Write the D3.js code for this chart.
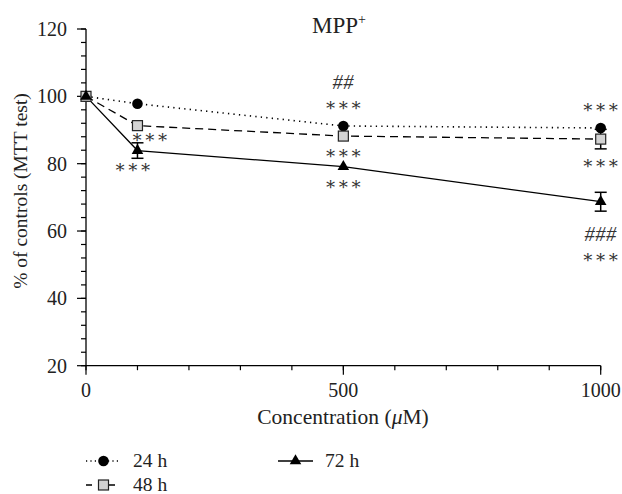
<!DOCTYPE html>
<html>
<head>
<meta charset="UTF-8">
<title>MPP+</title>
<style>
  body { margin: 0; background: #fff; }
</style>
</head>
<body>
<svg id="chart"></svg>
<script src="https://cdn.jsdelivr.net/npm/d3@7"></script>
<script>
// data
const concentrations = [0, 100, 500, 1000];
const seriesNames = ['24 h', '48 h', '72 h'];
const values24 = [100, 97.8, 91.2, 90.6];
const values48 = [100, 91.3, 88.2, 87.3];
const values72 = [100, 83.9, 79.1, 68.7];
const err48 = [0, 0, 0, 2.9];
const err72 = [0, 2.3, 0, 2.8];
const yTicks = [20, 40, 60, 80, 100, 120];
const xTicks = [0, 500, 1000];
// annotations in data units: [concentration, value, text]
const annotations = [
    [124, 88.0, '∗∗∗'],
    [91, 79.0, '∗∗∗'],
    [500, 104.3, '##'],
    [500, 97.3, '∗∗∗'],
    [500, 83.2, '∗∗∗'],
    [500, 74.0, '∗∗∗'],
    [1000, 96.7, '∗∗∗'],
    [1000, 80.1, '∗∗∗'],
    [1000, 59.1, '###'],
    [1000, 52.4, '∗∗∗']
];

const width = 622;
const height = 494;
const font = '"Liberation Serif", "Times New Roman", "DejaVu Serif", serif';

const svg = d3.select('#chart')
    .attr('width', width)
    .attr('height', height)
    .style('font-family', font);

const x = d3.scaleLinear().domain([0, 1000]).range([86, 600.7]);
const y = d3.scaleLinear().domain([20, 120]).range([365.7, 29]);

// y axis
const yAxis = svg.append('g')
    .attr('transform', 'translate(' + x(0) + ',0)');
yAxis.append('line')
    .attr('y1', y(20)).attr('y2', y(120))
    .attr('stroke', '#000').attr('stroke-width', 1.3);
yAxis.selectAll('.minor')
    .data(d3.range(20, 121, 4))
    .enter().append('line')
    .attr('x1', -5).attr('x2', 0)
    .attr('y1', d => y(d)).attr('y2', d => y(d))
    .attr('stroke', '#000').attr('stroke-width', 1.2);
yAxis.selectAll('.major')
    .data(yTicks)
    .enter().append('line')
    .attr('x1', -9).attr('x2', 0)
    .attr('y1', d => y(d)).attr('y2', d => y(d))
    .attr('stroke', '#000').attr('stroke-width', 1.2);
yAxis.selectAll('.label')
    .data(yTicks)
    .enter().append('text')
    .attr('x', -19)
    .attr('y', d => y(d) + 7)
    .attr('text-anchor', 'end')
    .attr('fill', '#222')
    .style('font-size', '20px')
    .text(d => d);

// x axis
const xAxis = svg.append('g')
    .attr('transform', 'translate(0,' + y(20) + ')');
xAxis.append('line')
    .attr('x1', x(0)).attr('x2', x(1000))
    .attr('stroke', '#000').attr('stroke-width', 1.3);
xAxis.selectAll('.minor')
    .data(d3.range(0, 1001, 100))
    .enter().append('line')
    .attr('x1', d => x(d)).attr('x2', d => x(d))
    .attr('y1', 0).attr('y2', 4.5)
    .attr('stroke', '#000').attr('stroke-width', 1.2);
xAxis.selectAll('.major')
    .data(xTicks)
    .enter().append('line')
    .attr('x1', d => x(d)).attr('x2', d => x(d))
    .attr('y1', 0).attr('y2', 9)
    .attr('stroke', '#000').attr('stroke-width', 1.2);
xAxis.selectAll('.label')
    .data(xTicks)
    .enter().append('text')
    .attr('x', d => x(d))
    .attr('y', 31)
    .attr('text-anchor', 'middle')
    .attr('fill', '#222')
    .style('font-size', '20px')
    .text(d => d);

// axis titles
svg.append('text')
    .attr('x', 343)
    .attr('y', 424)
    .attr('text-anchor', 'middle')
    .attr('fill', '#222')
    .style('font-size', '21.5px')
    .html('Concentration (<tspan font-style="italic">μ</tspan>M)');

svg.append('text')
    .attr('transform', 'translate(27,191) rotate(-90)')
    .attr('text-anchor', 'middle')
    .attr('fill', '#222')
    .style('font-size', '19.5px')
    .text('% of controls (MTT test)');

svg.append('text')
    .attr('x', 339)
    .attr('y', 33)
    .attr('text-anchor', 'middle')
    .attr('fill', '#222')
    .style('font-size', '23px')
    .html('MPP<tspan dy="-9" font-size="14px">+</tspan>');

// lines
const series = [
    { name: seriesNames[0], vals: values24, err: null, dash: '1.3,4.2', w: 1.6 },
    { name: seriesNames[1], vals: values48, err: err48, dash: '8,5', w: 1.3 },
    { name: seriesNames[2], vals: values72, err: err72, dash: null, w: 1.3 }
];

const line = d3.line()
    .x((d, i) => x(concentrations[i]))
    .y(d => y(d));

series.forEach(s => {
    svg.append('path')
        .datum(s.vals)
        .attr('d', line)
        .attr('fill', 'none')
        .attr('stroke', '#000')
        .attr('stroke-width', s.w)
        .attr('stroke-dasharray', s.dash);
});

// error bars
series.forEach(s => {
    if (!s.err) return;
    s.vals.forEach((v, i) => {
        const e = s.err[i];
        if (!e) return;
        const cx = x(concentrations[i]);
        const g = svg.append('g').attr('stroke', '#000').attr('stroke-width', 1.5);
        g.append('line').attr('x1', cx).attr('x2', cx).attr('y1', y(v - e)).attr('y2', y(v + e));
        g.append('line').attr('x1', cx - 6).attr('x2', cx + 6).attr('y1', y(v + e)).attr('y2', y(v + e));
        g.append('line').attr('x1', cx - 6).attr('x2', cx + 6).attr('y1', y(v - e)).attr('y2', y(v - e));
    });
});

// markers
function drawMarker(sel, idx, cx, cy) {
    if (idx === 0) {
        sel.append('circle').attr('cx', cx).attr('cy', cy).attr('r', 5.3).attr('fill', '#000');
    } else if (idx === 1) {
        sel.append('rect').attr('x', cx - 5).attr('y', cy - 5)
            .attr('width', 10).attr('height', 10)
            .attr('fill', '#d3d3d3').attr('stroke', '#222').attr('stroke-width', 1.2);
    } else {
        const sym = d3.symbol().type(d3.symbolTriangle).size(58);
        sel.append('path').attr('d', sym)
            .attr('transform', 'translate(' + cx + ',' + cy + ')')
            .attr('fill', '#000');
    }
}

series.forEach((s, si) => {
    s.vals.forEach((v, i) => drawMarker(svg, si, x(concentrations[i]), y(v)));
});

// significance marks
svg.selectAll('.sig')
    .data(annotations)
    .enter().append('text')
    .attr('x', d => x(d[0]))
    .attr('y', d => y(d[1]))
    .attr('dy', d => d[2][0] === '#' ? 7 : 6)
    .attr('text-anchor', 'middle')
    .attr('fill', '#333')
    .style('font-size', d => d[2][0] === '#' ? '20.5px' : '18px')
    .style('letter-spacing', '0.5px')
    .style('font-style', d => d[2][0] === '#' ? 'italic' : 'normal')
    .text(d => d[2]);

// legend
const legendItems = [
    { idx: 0, lx: 86, ly: 461 },
    { idx: 1, lx: 86, ly: 485 },
    { idx: 2, lx: 278, ly: 461 }
];
legendItems.forEach(it => {
    const s = series[it.idx];
    svg.append('line')
        .attr('x1', it.lx).attr('x2', it.lx + 35)
        .attr('y1', it.ly).attr('y2', it.ly)
        .attr('stroke', '#000')
        .attr('stroke-width', it.idx === 0 ? 1.4 : 1.3)
        .attr('stroke-dasharray', it.idx === 0 ? '1.2,3.2' : (it.idx === 1 ? '6,17,6' : null));
    drawMarker(svg, it.idx, it.lx + 17.5, it.ly);
    svg.append('text')
        .attr('x', it.lx + 47)
        .attr('y', it.ly + 6)
        .attr('fill', '#222')
        .style('font-size', '19.5px')
        .text(s.name);
});
</script>
</body>
</html>
